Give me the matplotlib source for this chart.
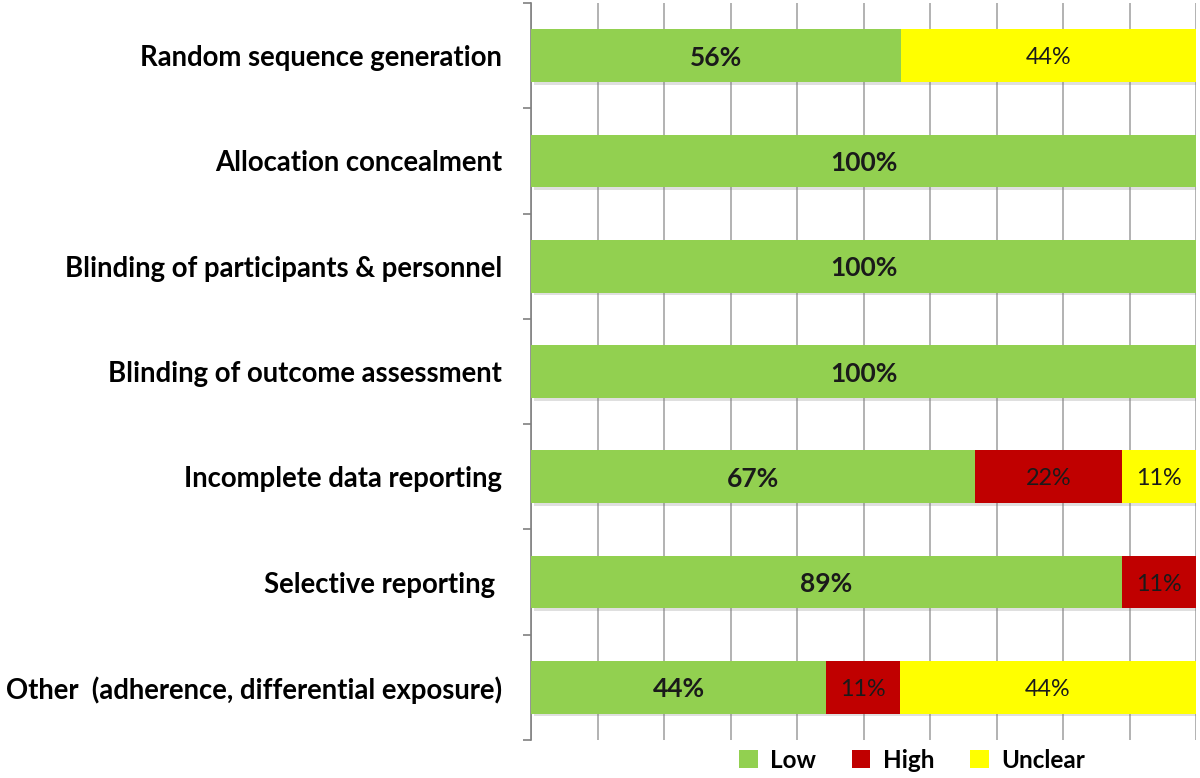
import matplotlib
matplotlib.use("Agg")
import matplotlib.pyplot as plt
from matplotlib.patches import Patch
import matplotlib.patheffects as pe
import numpy as np

categories = [
    "Random sequence generation",
    "Allocation concealment",
    "Blinding of participants & personnel",
    "Blinding of outcome assessment",
    "Incomplete data reporting",
    "Selective reporting ",
    "Other  (adherence, differential exposure)",
]
low = [55.6, 100, 100, 100, 66.7, 88.9, 44.4]
high = [0, 0, 0, 0, 22.2, 11.1, 11.1]
unclear = [44.4, 0, 0, 0, 11.1, 0, 44.5]
low_labels = ["56%", "100%", "100%", "100%", "67%", "89%", "44%"]
high_labels = ["", "", "", "", "22%", "11%", "11%"]
unclear_labels = ["44%", "", "", "", "11%", "", "44%"]
series_names = ["Low", "High", "Unclear"]
colors = ["#92D050", "#C00000", "#FFFF00"]

plt.rcParams["font.family"] = ["Lato", "DejaVu Sans"]

fig = plt.figure(figsize=(12, 7.78), dpi=100)
ax = fig.add_axes([531/1200, 1-740/778, 665/1200, 737/778])

n = len(categories)
y = np.arange(n)
shadow = [pe.SimplePatchShadow(offset=(2, -2), alpha=0.25, shadow_rgbFace="#808080"), pe.Normal()]

left = np.zeros(n)
all_vals = [low, high, unclear]
all_labels = [low_labels, high_labels, unclear_labels]
for k, (vals, labs) in enumerate(zip(all_vals, all_labels)):
    vals = np.array(vals, dtype=float)
    bars = ax.barh(y, vals, left=left, height=0.5, color=colors[k],
                   edgecolor="none", label=series_names[k], zorder=3)
    for b in bars:
        b.set_path_effects(shadow)
    for i in range(n):
        if labs[i]:
            ax.text(left[i] + vals[i] / 2, y[i] + 0.02, labs[i], ha="center", va="center",
                    fontsize=19 if k == 0 else 16.8,
                    fontweight="bold" if k == 0 else "normal",
                    color="#1a1a1a", zorder=4)
    left = left + vals

ax.set_xlim(0, 100)
ax.set_ylim(n - 0.5, -0.5)
ax.set_xticks(np.arange(0, 101, 10))
ax.tick_params(axis="x", length=0, labelbottom=False)
ax.grid(axis="x", color="#A6A6A6", linewidth=1.2, zorder=0)
ax.set_axisbelow(True)

ax.set_yticks(y)
ax.set_yticklabels(categories, fontsize=19.8, fontweight="bold")
ax.tick_params(axis="y", which="major", length=0, pad=21)
ax.set_yticks(np.arange(-0.5, n, 1), minor=True)
ax.tick_params(axis="y", which="minor", length=6, color="#808080", width=1.2)

for s in ["top", "right", "bottom"]:
    ax.spines[s].set_visible(False)
ax.spines["left"].set_color("#808080")
ax.spines["left"].set_linewidth(1.2)

handles = [Patch(facecolor=c, edgecolor="none") for c in colors]
leg = fig.legend(handles, series_names, loc="center", bbox_to_anchor=(912/1200, 1-760/778),
                 ncol=3, frameon=False, prop={"size": 17.5, "weight": "bold"},
                 handlelength=0.75, handleheight=0.75, handletextpad=0.5, columnspacing=1.5)

fig.savefig("out.png", dpi=100)
